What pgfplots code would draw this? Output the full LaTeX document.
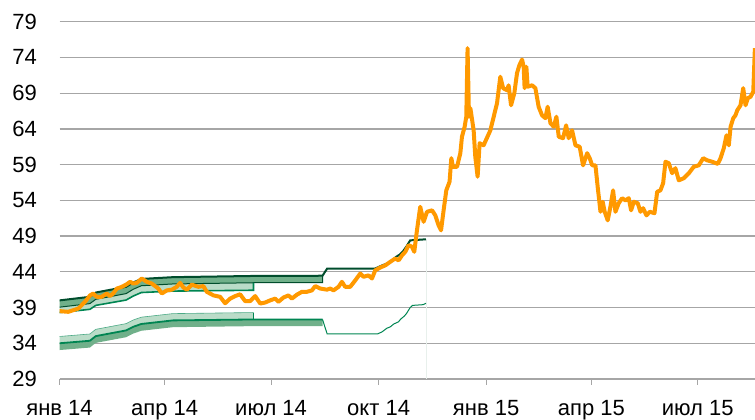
\documentclass[border=0pt]{standalone}
\usepackage{fontspec}
\setmainfont{Liberation Sans}
\usepackage{pgfplots}
\pgfplotsset{compat=1.18}
\usepgfplotslibrary{fillbetween}
\definecolor{usdorange}{RGB}{255,153,0}
\definecolor{darkg}{RGB}{0,77,44}
\definecolor{brightg}{RGB}{0,133,82}
\definecolor{medg}{RGB}{112,176,138}
\definecolor{lightg}{RGB}{186,220,200}
\definecolor{gridgray}{RGB}{166,166,166}
\definecolor{faint}{RGB}{232,240,236}
\begin{document}
\fontsize{22}{26}\selectfont
\begin{tikzpicture}
\begin{axis}[
  at={(59.5pt,41pt)}, anchor=south west,
  width=695.5pt, height=357.3pt, scale only axis,
  xmin=0, xmax=595, ymin=29, ymax=79,
  xtick={0,90,181,273,365,455,546},
  xticklabels={янв 14, апр 14, июл 14, окт 14, янв 15, апр 15, июл 15},
  ytick={29,34,...,79},
  ymajorgrids,
  grid style={color=gridgray, line width=1.3pt},
  axis line style={draw=none},
  xtick pos=lower,
  tick align=outside,
  major tick length=6pt,
  xtick style={color=gridgray, line width=1pt},
  ytick style={draw=none},
  ticklabel style={font=\fontsize{22}{26}\selectfont},
  /pgf/number format/assume math mode=true,
  xticklabel style={yshift=-8pt},
  yticklabel style={xshift=-9pt},
  clip=true,
]
% corridor boundary paths
\addplot[draw=none, name path=U1] coordinates {(0,40.0) (26,40.5) (31,41.1) (57,41.9) (63,42.5) (70,43.0) (97,43.25) (166,43.42) (225,43.45)};
\addplot[draw=none, name path=U2] coordinates {(0,39.05) (26,39.55) (31,40.15) (57,40.95) (63,41.55) (70,42.05) (97,42.3) (166,42.47) (225,42.5)};
\addplot[draw=none, name path=U2s] coordinates {(0,39.05) (26,39.55) (31,40.15) (57,40.95) (63,41.55) (70,42.05) (97,42.3) (166,42.47)};
\addplot[draw=none, name path=U3] coordinates {(0,38.3) (26,38.75) (31,39.3) (57,40.05) (63,40.6) (70,41.1) (97,41.3) (166,41.42)};
\addplot[draw=none, name path=L0] coordinates {(0,34.95) (26,35.3) (31,35.95) (57,36.75) (63,37.25) (70,37.65) (97,38.15) (166,38.3)};
\addplot[draw=none, name path=L1s] coordinates {(0,34.0) (26,34.35) (31,35.0) (57,35.8) (63,36.3) (70,36.7) (97,37.2) (166,37.33)};
\addplot[draw=none, name path=L1] coordinates {(0,34.0) (26,34.35) (31,35.0) (57,35.8) (63,36.3) (70,36.7) (97,37.2) (166,37.33) (225,37.33)};
\addplot[draw=none, name path=L2] coordinates {(0,33.05) (26,33.4) (31,34.05) (57,34.85) (63,35.35) (70,35.75) (97,36.25) (166,36.4) (225,36.4)};
% fills
\addplot[fill=medg, draw=none] fill between[of=U1 and U2];
\addplot[fill=lightg, draw=none] fill between[of=U2s and U3];
\addplot[fill=lightg, draw=none] fill between[of=L0 and L1s];
\addplot[fill=medg, draw=none] fill between[of=L1 and L2];
% faint end line
\addplot[faint, line width=0.7pt] coordinates {(313.5,29) (313.5,48.6)};
% band edges
\addplot[darkg, line width=1pt] coordinates {(0,39.05) (26,39.55) (31,40.15) (57,40.95) (63,41.55) (70,42.05) (97,42.3) (166,42.47) (225,42.5) (225,43.45)};
\addplot[brightg, line width=1.6pt] coordinates {(0,38.3) (26,38.75) (31,39.3) (57,40.05) (63,40.6) (70,41.1) (97,41.3) (166,41.42) (166,42.47)};
\addplot[brightg!70, line width=0.6pt] coordinates {(0,34.95) (26,35.3) (31,35.95) (57,36.75) (63,37.25) (70,37.65) (97,38.15) (166,38.3)};
\addplot[brightg, line width=1.4pt] coordinates {(166,37.33) (166,38.3)};
\addplot[brightg, line width=1.8pt] coordinates {(0,34.0) (26,34.35) (31,35.0) (57,35.8) (63,36.3) (70,36.7) (97,37.2) (166,37.33) (225,37.33)};
\addplot[brightg, line width=1pt] coordinates {(225,37.33) (229,35.3) (272,35.3) (276,35.6) (280,36.1) (283,36.3) (286,36.7) (290,37.0) (292,37.4) (295,37.8) (297,38.2) (300,39.0) (302,39.3) (311,39.4) (313.5,39.6)};
% upper boundary
\addplot[darkg, line width=2pt] coordinates {(0,40.0) (26,40.5) (31,41.1) (57,41.9) (63,42.5) (70,43.0) (97,43.25) (166,43.42) (225,43.45) (229,44.46) (270,44.46) (272,44.6) (276,44.9) (281,45.2) (284,45.5) (288,46.1) (291,46.4) (294,46.9) (297,47.6) (300,48.4) (313.5,48.55)};
% rate
\addplot[usdorange, line width=4pt, line join=round] coordinates {
(0,38.5) (7.5,38.4) (16.1,38.86) (21.8,39.8) (26.1,40.7) (28.9,40.96) (31.8,40.5) (36.1,40.5) (40.4,40.96) (43.2,40.6) (46.1,41.0) (49,41.66) (51.8,41.8) (54.6,42.0) (57.5,42.26) (60.4,42.6) (63.2,42.36) (66.1,42.45) (70.4,43.06) (74.7,42.6) (78.9,42.36) (84.6,41.66) (87.5,40.96) (91.8,41.4) (96.1,41.5) (100.3,41.9) (103.2,42.45) (106,41.8) (108.9,41.5) (113.2,42.2) (118.8,41.9) (123.1,42.0) (126,41.2) (131.7,40.7) (137.4,40.5) (141.7,39.6) (146,40.25) (150.3,40.6) (154.5,40.86) (158.8,39.9) (163.1,39.9) (167.4,40.6) (171.7,39.56) (175.9,39.7) (180.2,40.0) (184.5,40.25) (187.3,39.8) (191.6,40.4) (195.9,40.7) (198.8,40.25) (203.1,40.8) (207.4,41.2) (211.6,41.2) (215.9,41.4) (218.8,42.0) (223,41.66) (228.8,41.5) (231.6,41.66) (234.4,41.4) (238.7,41.9) (241.6,42.6) (244.4,41.9) (248.7,41.9) (253,42.8) (257.3,43.76) (260.1,43.3) (264.4,43.5) (267.3,43.06) (270.1,44.2) (274.4,44.6) (278.7,44.9) (283,45.4) (287.2,45.86) (290.1,45.6) (293,46.3) (295.8,46.8) (298.6,47.73) (301.5,47.5) (303.5,46.8) (305.8,49.8) (308.6,53.1) (311.5,51.0) (314.4,52.4) (318.7,52.6) (321.5,51.9) (324.3,50.5) (326.4,49.8) (328.6,52.6) (330.9,55.4) (333.7,56.6) (335.2,59.9) (336.6,58.7) (340.1,58.7) (342.9,60.6) (344.3,62.9) (346.6,64.3) (348,65.7) (349.1,75.3) (350.3,65.7) (351.5,66.9) (354.3,63.8) (355.7,60.1) (357.7,57.3) (359.4,62.0) (362.8,61.7) (368.6,63.8) (374.3,67.6) (377.1,71.3) (379.5,69.7) (382.9,69.4) (384.2,70.1) (386.3,67.3) (389.1,69.0) (391.4,71.8) (393.4,72.9) (395.7,73.7) (397.1,72.7) (397.9,69.7) (399.4,72.7) (400.5,69.9) (404.3,70.1) (407.1,69.7) (409.9,67.1) (412.8,65.9) (415.7,65.5) (417.6,67.1) (420,64.8) (422.8,64.3) (425.1,65.7) (427.1,62.9) (430.8,62.7) (433.4,64.5) (435.6,62.7) (438.5,63.8) (441.4,61.7) (445,61.5) (447.9,58.9) (451.4,60.6) (453.6,59.9) (455.7,58.9) (458.5,58.9) (460.4,55.9) (462.8,52.4) (464.7,53.8) (466.4,52.4) (469,51.2) (471.3,53.1) (473.6,55.4) (475.6,52.4) (478.4,53.6) (481.3,54.3) (484.2,54.0) (487,54.3) (489,52.6) (491.3,53.8) (494.7,53.6) (497,52.4) (499.3,52.9) (502.1,51.9) (505,52.4) (509,52.2) (511.3,55.2) (514.1,55.4) (516.4,56.4) (518.4,59.4) (521.2,59.2) (524.1,57.8) (526.9,58.5) (529.8,56.8) (534.1,57.1) (538.4,57.8) (542.6,58.7) (546.9,58.9) (550.7,59.9) (554.1,59.6) (558.4,59.4) (563.2,59.1) (565.5,59.9) (568.3,61.3) (570.6,63.1) (572.6,61.7) (574.1,64.3) (576.4,65.5) (578.3,65.9) (579.8,66.6) (582.6,67.3) (584.9,69.7) (586.9,67.3) (588.9,68.3) (591.2,68.5) (593.5,69.2) (594.9,75.3)};
\end{axis}
\pgfresetboundingbox
\path (0,0) rectangle (755pt,420pt);
\end{tikzpicture}
\end{document}
